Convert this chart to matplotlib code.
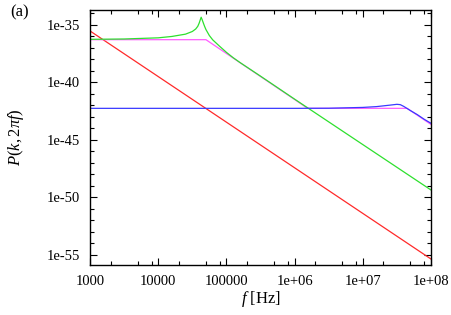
import numpy as np
import matplotlib
matplotlib.use("Agg")
import matplotlib.pyplot as plt
from matplotlib.ticker import FixedLocator, NullFormatter

plt.rcParams['font.family'] = ['Liberation Serif', 'DejaVu Serif']
plt.rcParams['mathtext.fontset'] = 'custom'
plt.rcParams['mathtext.rm'] = 'Liberation Serif'
plt.rcParams['mathtext.it'] = 'Liberation Serif:italic'

# ---- data (log10 of frequency in Hz, log10 of P) ----
red_logf = [3.0, 8.0]
red_logP = [-35.52, -55.35]

magenta_logf = [3.0, 4.70, 5.0, 5.5, 6.0, 6.19, 7.65, 8.0]
magenta_logP = [-36.28, -36.28, -37.48, -39.48, -41.48, -42.25, -42.25, -43.65]

green_logf = [3.0, 3.5, 4.0, 4.2, 4.4, 4.5, 4.55, 4.58, 4.6, 4.62, 4.63, 4.645,
              4.66, 4.68, 4.7, 4.75, 4.8, 4.9, 5.0, 5.1, 5.2, 5.5, 6.0, 7.0, 8.0]
green_logP = [-36.25, -36.22, -36.12, -36.0, -35.8, -35.57, -35.35, -35.12, -34.85,
              -34.5, -34.33, -34.55, -34.8, -35.12, -35.4, -35.92, -36.3, -36.85,
              -37.38, -37.85, -38.27, -39.45, -41.45, -45.4, -49.35]

blue_logf = [3.0, 6.0, 6.5, 7.0, 7.2, 7.4, 7.5, 7.55, 7.6, 7.7, 7.8, 7.9, 8.0]
blue_logP = [-42.25, -42.25, -42.24, -42.17, -42.1, -41.97, -41.9, -41.93, -42.08,
             -42.45, -42.8, -43.2, -43.55]

xtick_vals = [1e3, 1e4, 1e5, 1e6, 1e7, 1e8]
xtick_labels = ["1000", "10000", "100000", "1e+06", "1e+07", "1e+08"]
ytick_vals = [1e-55, 1e-50, 1e-45, 1e-40, 1e-35]
ytick_labels = ["1e-55", "1e-50", "1e-45", "1e-40", "1e-35"]

series = [
    (red_logf, red_logP, '#ff2a2a'),
    (magenta_logf, magenta_logP, '#ff5cff'),
    (green_logf, green_logP, '#2ee02e'),
    (blue_logf, blue_logP, '#3a3aff'),
]

fig = plt.figure(figsize=(4.52, 3.15), dpi=100)
ax = fig.add_axes([90/452, 1-265/315, (431-90)/452, (265-10)/315])

for lf, lp, c in series:
    ax.plot(10.0**np.array(lf), 10.0**np.array(lp), color=c, lw=0.9)

ax.set_xscale('log')
ax.set_yscale('log')
ax.set_xlim(1e3, 1e8)
ax.set_ylim(10**-55.87, 10**-33.70)

ax.xaxis.set_major_locator(FixedLocator(xtick_vals))
ax.set_xticklabels(xtick_labels)
minor_x = [m * 10**e for e in range(3, 8) for m in (2, 5, 8)]
ax.xaxis.set_minor_locator(FixedLocator(minor_x))
ax.xaxis.set_minor_formatter(NullFormatter())

ax.yaxis.set_major_locator(FixedLocator(ytick_vals))
ax.set_yticklabels(ytick_labels)
ax.yaxis.set_minor_locator(FixedLocator([10.0**e for e in range(-55, -33)]))
ax.yaxis.set_minor_formatter(NullFormatter())

ax.tick_params(which='both', direction='in', top=True, right=True, labelsize=10.5,
               width=0.8, color='black')
ax.tick_params(which='major', length=5, pad=7)
ax.tick_params(which='minor', length=3)
for s in ax.spines.values():
    s.set_linewidth(1.0)
    s.set_color('black')

ax.set_xlabel(r'$f$ [Hz]', fontsize=12, labelpad=1)
ax.set_ylabel(r'$P(k, 2\pi f)$', fontsize=12, labelpad=15)
fig.text(10/452, 1-12/315, '(a)', fontsize=12, va='center', ha='left')

fig.savefig('out.png', dpi=100)
